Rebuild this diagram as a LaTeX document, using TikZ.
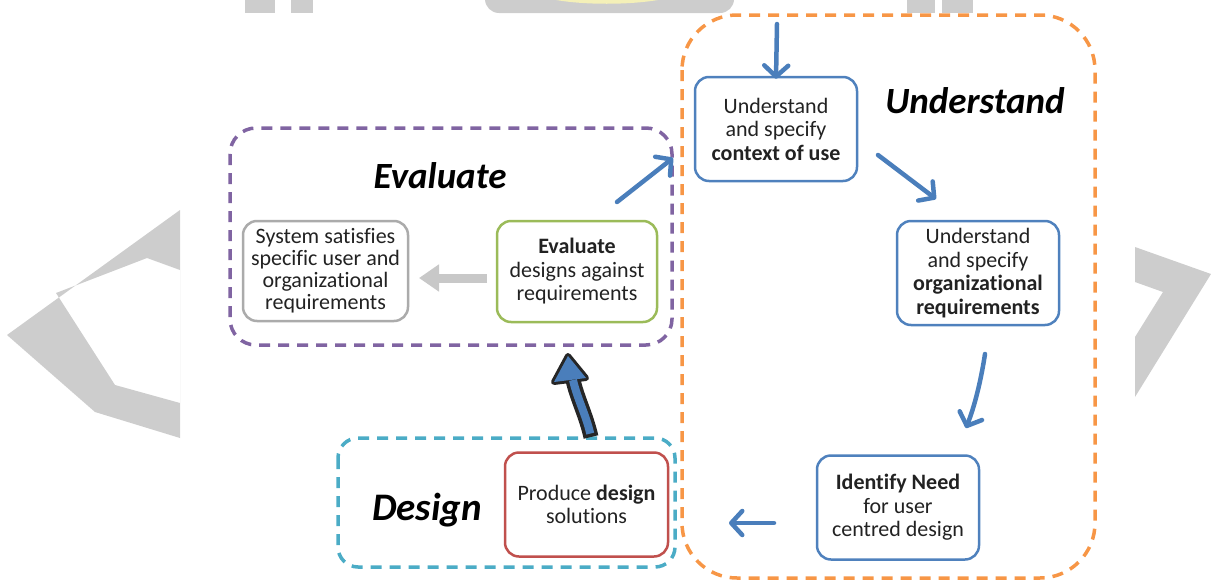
\documentclass[tikz,border=0pt]{standalone}
\usepackage{fontspec}
\setmainfont{Carlito}[Ligatures={NoCommon}]
\usetikzlibrary{arrows.meta}
\definecolor{pur}{HTML}{8064A2}
\definecolor{ora}{HTML}{F79646}
\definecolor{cya}{HTML}{4BACC6}
\definecolor{nblue}{HTML}{4F81BD}
\definecolor{ablue}{HTML}{4A7EBB}
\definecolor{grn}{HTML}{9BBB59}
\definecolor{rd}{HTML}{C0504D}
\definecolor{gbox}{HTML}{ABABAB}
\definecolor{garrow}{HTML}{C8C8C8}
\definecolor{wm}{HTML}{CDCDCD}
\definecolor{wmy}{HTML}{F4F0B8}
\definecolor{txt}{HTML}{222222}
\begin{document}
\begin{tikzpicture}[x=1pt,y=-1pt,
  group/.style={line width=3.5pt, dash pattern=on 11pt off 8pt},
  stepbox/.style={draw, line width=2.5pt, rounded corners=14pt, align=center, inner sep=0pt, text=txt,
    minimum width=162pt, minimum height=104pt, font=\fontsize{22}{23.5}\selectfont},
  phase/.style={anchor=base, font=\fontsize{37}{42}\selectfont\bfseries\itshape},
  flow/.style={draw=ablue, line width=4.5pt, line cap=round,
    -{Straight Barb[length=11pt,width=24pt,line width=4.5pt,round]}},
]
\useasboundingbox (0,0) rectangle (1211,584);
% watermark
\fill[wm, even odd rule] (180,210) -- (7,335) -- (95,412) -- (180,438) -- cycle
  (180,270) -- (147,258) -- (56,293) -- (115,385) -- (180,403) -- cycle;
\fill[wm] (1135,247) -- (1211,274) -- (1135,397) -- (1135,337) -- (1163,292) -- (1135,282) -- cycle;
\fill[wm] (245,0) rectangle (275,13);
\fill[wm] (291,0) rectangle (313,13);
\fill[wm] (907,0) rectangle (935,13);
\fill[wm] (942,0) rectangle (973,13);
\fill[wm, rounded corners=14pt] (485,-20) rectangle (734,13);
\fill[wmy] (556,0) .. controls (585,5) and (628,5) .. (658,0) -- cycle;
% groups
\draw[group, draw=pur, rounded corners=26pt] (230,128) rectangle (672,345);
\draw[group, draw=ora, rounded corners=55pt] (682,15) rectangle (1095,578);
\draw[group, draw=cya, rounded corners=20pt] (338,438) rectangle (675,567);
% phase titles
\node[phase] (tEval) at (440,188) {Evaluate};
\node[phase] (tUnd) at (975,113) {Understand};
\node[phase, font=\fontsize{39}{44}\selectfont\bfseries\itshape] (tDes) at (427,520) {Design};
% step boxes
\node[stepbox, draw=nblue] (ctx) at (776,129) {Understand\\and specify\\\textbf{context of use}};
\node[stepbox, draw=nblue] (org) at (978,273) {Understand\\and specify\\\textbf{organizational}\\\textbf{requirements}};
\node[stepbox, draw=nblue] (need) at (898,507.5) {\textbf{Identify Need}\\for user\\centred design};
\node[stepbox, draw=rd, minimum width=163pt] (prod) at (586.5,504.5) {Produce \textbf{design}\\solutions};
\node[stepbox, draw=grn, minimum width=160pt, minimum height=101pt] (eval) at (577,271.5) {\textbf{Evaluate}\\designs against\\requirements};
\node[stepbox, draw=gbox, minimum width=165pt, minimum height=100pt, font=\fontsize{22}{22}\selectfont] (sys) at (325.5,271) {System satisfies\\specific user and\\organizational\\requirements};
% connectors
\coordinate (in0) at (777,24);
\draw[flow] (in0) -- ([yshift=-3pt]ctx.north);
\coordinate (a1s) at (878,155);
\coordinate (a1e) at (936,199);
\draw[flow] (a1s) -- (a1e);
\coordinate (a2s) at (985,354);
\coordinate (a2e) at (966,428);
\draw[flow] (a2s) .. controls (981,380) and (975,405) .. (a2e);
\coordinate (a3s) at (774,523);
\coordinate (a3e) at (729,523);
\draw[flow] (a3s) -- (a3e);
\coordinate (a4s) at (617,202);
\coordinate (a4e) at (673,158);
\draw[flow] (a4s) -- (a4e);
\coordinate (g0) at (487,278);
\coordinate (g1) at (419,278);
\draw[garrow, line width=9pt, -{Triangle[length=20pt,width=26pt]}] (g0) -- (g1);
% big arrow design -> evaluate
\coordinate (b0) at (591,437);
\coordinate (b1) at (573,380);
\draw[black!85, line width=15pt] (b0) .. controls (586,415) and (577,398) .. (b1);
\filldraw[black!85, line width=6pt, line join=round] (554,382) -- (568,356) -- (586,378) -- cycle;
\draw[ablue, line width=8pt, shorten <=3.5pt] (b0) .. controls (586,415) and (577,398) .. (b1);
\fill[ablue] (554,382) -- (568,356) -- (586,378) -- cycle;
\end{tikzpicture}
\end{document}
